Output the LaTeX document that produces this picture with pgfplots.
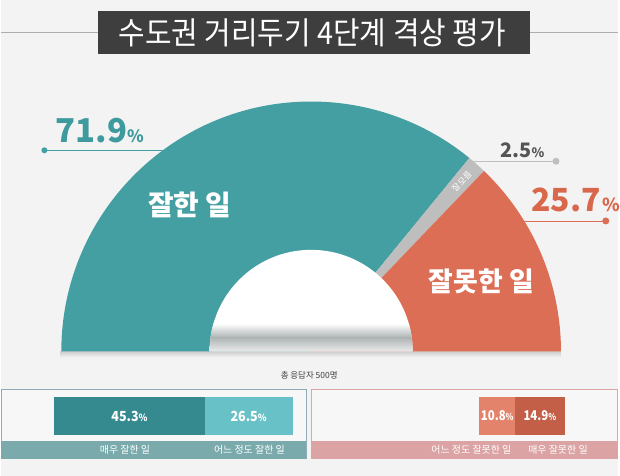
\documentclass[border=0pt]{standalone}
\usepackage{pgfplots}
\pgfplotsset{compat=1.18}
\usepackage{fontspec}
\setmainfont{Noto Sans CJK KR}
\newcommand\fs[1]{\fontsize{#1}{#1}\selectfont}

\definecolor{bg}{HTML}{F3F3F3}
\definecolor{good}{HTML}{449FA2}
\definecolor{goodtxt}{HTML}{3F9A9D}
\definecolor{bad}{HTML}{DC6E55}
\definecolor{badtxt}{HTML}{D9674B}
\definecolor{dk}{HTML}{BEBEBE}
\definecolor{titlebox}{HTML}{3E3E3E}
\definecolor{vgood}{HTML}{348A8E}
\definecolor{sgood}{HTML}{68C1C7}
\definecolor{sbad}{HTML}{E3836B}
\definecolor{vbad}{HTML}{C35E47}
\definecolor{gframe}{HTML}{8EABB7}
\definecolor{gstrip}{HTML}{7AAAAB}
\definecolor{bframe}{HTML}{DCA6A7}
\definecolor{bstrip}{HTML}{DCA3A4}
\definecolor{shadow}{HTML}{AEB4B4}

% shares of the half donut (%)
\def\vGood{71.9}
\def\vDk{2.5}
\def\vBad{25.7}
% breakdown bars (%), 3.333pt per point
\def\vVeryGood{45.3}
\def\vSomeGood{26.5}
\def\vSomeBad{10.8}
\def\vVeryBad{14.9}

\begin{document}
\begin{tikzpicture}
\pgfmathsetmacro\tot{\vGood+\vDk+\vBad}
\pgfmathsetmacro\aA{180-180*\vGood/\tot}
\pgfmathsetmacro\aB{\aA-180*\vDk/\tot}
\pgfmathsetmacro\aM{(\aA+\aB)/2}

% main canvas: 1 unit = 1pt, y measured from the bottom
\begin{axis}[x=1pt, y=1pt, xmin=0, xmax=620, ymin=0, ymax=478,
    hide axis, clip=false, at={(0,0)}, anchor=south west]
  \fill[bg] (axis cs:0,0) rectangle (axis cs:620,478);

  % title
  \draw[black!32, line width=1.2pt] (axis cs:0,445) -- (axis cs:620,445);
  \fill[titlebox] (axis cs:98,424) rectangle (axis cs:532,467);
  \node[white, font=\fs{29}, yscale=1.08] at (axis cs:313,445) {수도권 거리두기 4단계 격상 평가};

  % leader lines (drawn before the wedges so they stop at the rim)
  \draw[good, line width=0.8pt] (axis cs:44,327) -- (axis cs:220,327);
  \fill[good] (axis cs:44,327) circle[radius=3pt];
  \draw[black!25, line width=0.8pt] (axis cs:440,316) -- (axis cs:558,316);
  \fill[black!25] (axis cs:558,316) circle[radius=3.5pt];
  \draw[bad, line width=0.8pt] (axis cs:480,256) -- (axis cs:608,256);
  \fill[bad] (axis cs:608,256) circle[radius=3.5pt];

  % soft shadow under the base
  \shade[top color=black!20, bottom color=bg] (axis cs:60,125) rectangle (axis cs:563,119);

  % half donut
  \fill[good] (axis cs:312,125) -- ++(180:251pt) arc[start angle=180, end angle=\aA, radius=251pt] -- cycle;
  \fill[dk] (axis cs:312,125) -- ++(\aA:251pt) arc[start angle=\aA, end angle=\aB, radius=251pt] -- cycle;
  \fill[bad] (axis cs:312,125) -- ++(\aB:251pt) arc[start angle=\aB, end angle=0, radius=251pt] -- cycle;
  \fill[white] (axis cs:312,125) -- ++(180:102pt) arc[start angle=180, end angle=0, radius=102pt] -- cycle;
  \begin{scope}
    \clip (axis cs:312,125) -- ++(180:102pt) arc[start angle=180, end angle=0, radius=102pt] -- cycle;
    \shade[top color=white, bottom color=shadow] (axis cs:200,153) rectangle (axis cs:420,139);
    \shade[top color=shadow, bottom color=white!92!black] (axis cs:200,139) rectangle (axis cs:420,125);
  \end{scope}

  \path (axis cs:312,125) ++(\aM:228pt) node[rotate=\aM, white, font=\fs{8.5}, inner sep=0pt] {잘\,모름};
  \node[white, font=\fs{28}\bfseries] at (axis cs:190,272) {잘한 일};
  \node[white, font=\fs{27}\bfseries] at (axis cs:483,195) {잘못한 일};

  % big percentages
  \node[goodtxt, anchor=base west, inner sep=0pt] at (axis cs:55,335)
    {{\fs{33}\bfseries 71.9}{\fs{17}\bfseries\%}};
  \node[black!67, anchor=base west, inner sep=0pt] at (axis cs:502,320)
    {{\fs{20}\bfseries 2.5}{\fs{13}\bfseries\%}};
  \node[badtxt, anchor=base west, inner sep=0pt] at (axis cs:533,266)
    {{\fs{32}\bfseries 25.7}\,{\fs{18}\bfseries\%}};

  \node[black!75, font=\fs{8.5}] at (axis cs:310,101) {총 응답자 500명};

  % lower panels
  \filldraw[draw=gframe, fill=white!97!black, line width=0.8pt] (axis cs:0.5,17) rectangle (axis cs:307,87);
  \fill[gstrip] (axis cs:0.5,17) rectangle (axis cs:307,35);
  \filldraw[draw=bframe, fill=white!97!black, line width=0.8pt] (axis cs:312,17) rectangle (axis cs:619.5,87);
  \fill[bstrip] (axis cs:312,17) rectangle (axis cs:619.5,35);
  \node[white, font=\fs{10}] at (axis cs:125,26) {매우 잘한 일};
  \node[white, font=\fs{10}] at (axis cs:250,26) {어느 정도 잘한 일};
  \node[white, font=\fs{10}] at (axis cs:473,26) {어느 정도 잘못한 일};
  \node[white, font=\fs{10}] at (axis cs:560,26) {매우 잘못한 일};
\end{axis}

% stacked bar: good
\begin{axis}[at={(54pt,41pt)}, anchor=south west, xbar stacked, bar width=38pt,
    x=3.333pt, y=38pt, xmin=0, xmax=71.8, ymin=-0.5, ymax=0.5,
    hide axis, clip=false, enlargelimits=false]
  \addplot[fill=vgood, draw=none] coordinates {(\vVeryGood,0)};
  \addplot[fill=sgood, draw=none] coordinates {(\vSomeGood,0)};
\end{axis}

% stacked bar: bad
\begin{axis}[at={(481pt,41pt)}, anchor=south west, xbar stacked, bar width=38pt,
    x=3.333pt, y=38pt, xmin=0, xmax=25.7, ymin=-0.5, ymax=0.5,
    hide axis, clip=false, enlargelimits=false]
  \addplot[fill=sbad, draw=none] coordinates {(\vSomeBad,0)};
  \addplot[fill=vbad, draw=none] coordinates {(\vVeryBad,0)};
\end{axis}

% bar labels, on top of the bars (same canvas as the main axis)
\pgfmathsetmacro\lA{54+3.333*\vVeryGood/2}
\pgfmathsetmacro\lB{54+3.333*(\vVeryGood+\vSomeGood/2)}
\pgfmathsetmacro\lC{481+3.333*\vSomeBad/2}
\pgfmathsetmacro\lD{481+3.333*(\vSomeBad+\vVeryBad/2)}
\begin{axis}[x=1pt, y=1pt, xmin=0, xmax=620, ymin=0, ymax=478,
    hide axis, clip=false, at={(0,0)}, anchor=south west]
  \node[white, xscale=0.9] at (axis cs:\lA,60) {{\fs{14}\bfseries 45.3}{\fs{10}\bfseries\%}};
  \node[white, xscale=0.9] at (axis cs:\lB,60) {{\fs{14}\bfseries 26.5}{\fs{10}\bfseries\%}};
  \node[white, xscale=0.85, inner sep=0pt] at (axis cs:\lC,60) {{\fs{13.5}\bfseries 10.8}{\fs{9.5}\bfseries\%}};
  \node[white, xscale=0.85, inner sep=0pt] at (axis cs:\lD,60) {{\fs{13.5}\bfseries 14.9}{\fs{9.5}\bfseries\%}};
\end{axis}
\end{tikzpicture}
\end{document}
